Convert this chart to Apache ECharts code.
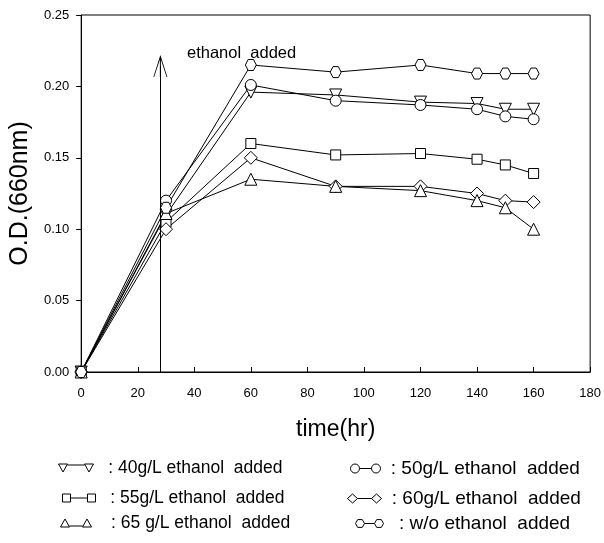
<!DOCTYPE html>
<html>
<head>
<meta charset="utf-8">
<script src="https://cdn.jsdelivr.net/npm/echarts@6/dist/echarts.min.js"></script>
<style>
  html, body { margin: 0; padding: 0; background: #fff; }
  #chart { width: 604px; height: 543px; }
</style>
</head>
<body>
<div id="chart"></div>
<script>
// Sampling times (hr)
const hours = [0, 30, 60, 90, 120, 140, 150, 160];

// Optical density at 660 nm for each culture
const od40 = [0, 0.110, 0.196, 0.194, 0.189, 0.188, 0.184, 0.184];
const od50 = [0, 0.120, 0.201, 0.190, 0.187, 0.184, 0.179, 0.177];
const od55 = [0, 0.105, 0.160, 0.152, 0.153, 0.149, 0.145, 0.139];
const od60 = [0, 0.100, 0.150, 0.130, 0.130, 0.125, 0.120, 0.119];
const od65 = [0, 0.111, 0.135, 0.130, 0.127, 0.120, 0.115, 0.100];
const odNone = [0, 0.115, 0.215, 0.210, 0.215, 0.209, 0.209, 0.209];

// Axis ticks
const xTicks = [0, 20, 40, 60, 80, 100, 120, 140, 160, 180];
const yTicks = [0.00, 0.05, 0.10, 0.15, 0.20, 0.25];

// Time of ethanol addition and the arrow's height
const additionTime = 28;
const arrowTop = 0.222;

const FONT = '"Liberation Sans", Arial, sans-serif';

const HEX = 'path://M0,5 L2.6,0.6 L7.4,0.6 L10,5 L7.4,9.4 L2.6,9.4 Z';

// Legend icons: marker, connecting line, marker
const icons = {
  down: 'path://M0,0 L9,0 L4.5,8 Z M9,1 L26,1 M26,0 L35,0 L30.5,8 Z',
  up: 'path://M0,8 L4.5,0 L9,8 Z M9,7 L22,7 M22,8 L26.5,0 L31,8 Z',
  rect: 'path://M0,0 L8,0 L8,8 L0,8 Z M8,4 L25,4 M25,0 L33,0 L33,8 L25,8 Z',
  circle: 'path://M0,4.5 A4.5,4.5 0 1,0 9,4.5 A4.5,4.5 0 1,0 0,4.5 Z M9,4.5 L21,4.5 M21,4.5 A4.5,4.5 0 1,0 30,4.5 A4.5,4.5 0 1,0 21,4.5 Z',
  diamond: 'path://M0,4.5 L5,0 L10,4.5 L5,9 Z M10,4.5 L24,4.5 M24,4.5 L29,0 L34,4.5 L29,9 Z',
  hex: 'path://M0,4.5 L2.2,0.6 L6.8,0.6 L9,4.5 L6.8,8.4 L2.2,8.4 Z M9,4.5 L19,4.5 M19,4.5 L21.2,0.6 L25.8,0.6 L28,4.5 L25.8,8.4 L21.2,8.4 Z'
};

const seriesDefs = [
  { name: ': 40g/L ethanol  added', values: od40, symbol: 'triangle', rotate: 180, size: 12, icon: icons.down },
  { name: ': 50g/L ethanol  added', values: od50, symbol: 'circle', rotate: 0, size: 11, icon: icons.circle },
  { name: ': 55g/L ethanol  added', values: od55, symbol: 'rect', rotate: 0, size: 10, icon: icons.rect },
  { name: ': 60g/L ethanol  added', values: od60, symbol: 'diamond', rotate: 0, size: 13, icon: icons.diamond },
  { name: ': 65 g/L ethanol  added', values: od65, symbol: 'triangle', rotate: 0, size: 12, icon: icons.up },
  { name: ': w/o ethanol  added', values: odNone, symbol: HEX, rotate: 0, size: 11, icon: icons.hex }
];

// Open arrowhead with its stem, tip at the top
const ARROW = 'path://M7,0 L14,22 L13.2,22 L7.5,4.5 L7.5,22 L6.5,22 L6.5,4.5 L0.8,22 L0,22 Z';
const arrowHalf = 11; // px from symbol centre to tip

const chart = echarts.init(document.getElementById('chart'), null, { renderer: 'canvas' });

const grid = { left: 81, right: 13, top: 15, bottom: 171 };
const plotH = 543 - grid.top - grid.bottom;
const yMax = yTicks[yTicks.length - 1];
const arrowEnd = arrowTop - arrowHalf * yMax / plotH;

const series = seriesDefs.map((d, i) => ({
  type: 'line',
  name: d.name,
  data: hours.map((h, k) => [h, d.values[k]]),
  symbol: d.symbol,
  symbolRotate: d.rotate,
  symbolSize: d.size,
  showAllSymbol: true,
  lineStyle: { color: '#000', width: 1 },
  itemStyle: { color: '#fff', borderColor: '#000', borderWidth: 1 },
  emphasis: { disabled: true },
  z: 2,
  markLine: i === 0 ? {
    silent: true,
    symbol: ['none', ARROW],
    symbolSize: [14, 22],
    label: { show: false },
    lineStyle: { color: '#000', width: 1, type: 'solid' },
    emphasis: { disabled: true },
    data: [[{ coord: [additionTime, 0] }, { coord: [additionTime, arrowEnd] }]]
  } : undefined
}));

// Legend placement: two columns, three rows
const legendSlots = [
  { idx: 0, left: 58, top: 459, w: 35, h: 8, lead: '  ', size: 17.5 },
  { idx: 2, left: 62, top: 489, w: 33, h: 8, lead: '  ', size: 17.5 },
  { idx: 4, left: 60, top: 514, w: 31, h: 8, lead: '   ', size: 17.5 },
  { idx: 1, left: 350, top: 459, w: 30, h: 9, lead: ' ', size: 19 },
  { idx: 3, left: 347, top: 489, w: 34, h: 9, lead: ' ', size: 19 },
  { idx: 5, left: 355, top: 514, w: 28, h: 9, lead: '  ', size: 19 }
];

const legends = legendSlots.map(s => ({
  data: [{ name: seriesDefs[s.idx].name, icon: seriesDefs[s.idx].icon }],
  left: s.left,
  top: s.top,
  padding: 0,
  itemWidth: s.w,
  itemHeight: s.h,
  selectedMode: false,
  formatter: n => s.lead + n,
  itemStyle: { color: '#fff', borderColor: '#000', borderWidth: 1 },
  textStyle: { fontFamily: FONT, fontSize: s.size, color: '#000' }
}));

chart.setOption({
  animation: false,
  backgroundColor: '#fff',
  grid: Object.assign({ show: true, borderColor: '#000', borderWidth: 1, backgroundColor: 'transparent' }, grid),
  xAxis: {
    type: 'value',
    min: xTicks[0],
    max: xTicks[xTicks.length - 1],
    interval: xTicks[1] - xTicks[0],
    name: 'time(hr)',
    nameLocation: 'middle',
    nameGap: 46,
    nameTextStyle: { fontFamily: FONT, fontSize: 23, color: '#000' },
    axisLine: { lineStyle: { color: '#000', width: 1 } },
    axisTick: { inside: true, length: 5, lineStyle: { color: '#000' } },
    axisLabel: { fontFamily: FONT, fontSize: 13, color: '#000', margin: 15 },
    splitLine: { show: false }
  },
  yAxis: {
    type: 'value',
    min: yTicks[0],
    max: yMax,
    interval: yTicks[1] - yTicks[0],
    name: 'O.D.(660nm)',
    nameLocation: 'middle',
    nameGap: 46,
    nameRotate: 90,
    nameTextStyle: { fontFamily: FONT, fontSize: 25, color: '#000' },
    axisLine: { show: true, lineStyle: { color: '#000', width: 1 } },
    axisTick: { show: true, inside: false, length: 5, lineStyle: { color: '#000' } },
    axisLabel: { fontFamily: FONT, fontSize: 13, color: '#000', margin: 12, formatter: v => v.toFixed(2) },
    splitLine: { show: false }
  },
  legend: legends,
  graphic: [{
    type: 'text',
    left: 187,
    top: 45,
    style: { text: 'ethanol  added', font: '16.5px ' + FONT, fill: '#000' }
  }],
  series: series
});
</script>
</body>
</html>
